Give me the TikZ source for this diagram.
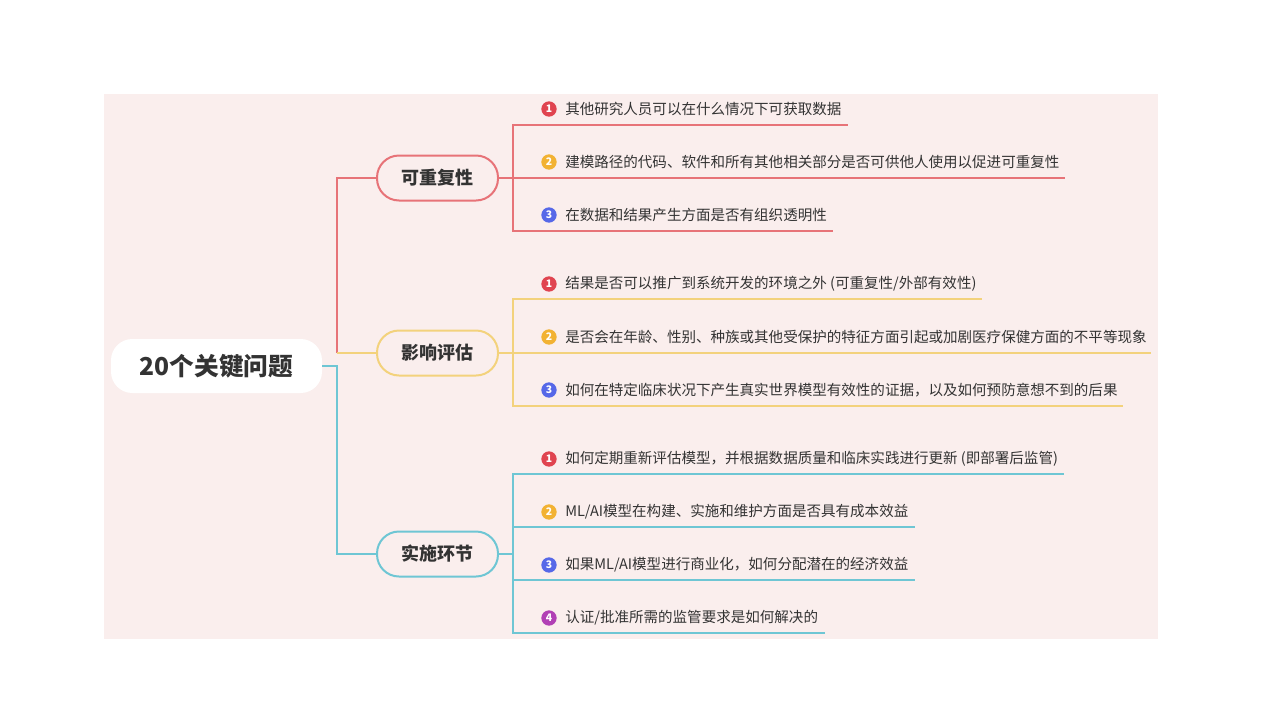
\documentclass[tikz,border=0pt]{standalone}
\usepackage{fontspec}
\setmainfont{Noto Sans CJK SC}
\definecolor{bgc}{HTML}{FAEEED}
\definecolor{cred}{HTML}{E77378}
\definecolor{cyel}{HTML}{F3D27C}
\definecolor{ccya}{HTML}{6EC6D4}
\definecolor{ired}{HTML}{E04450}
\definecolor{iora}{HTML}{F2B233}
\definecolor{iblu}{HTML}{5668E8}
\definecolor{ipur}{HTML}{B140B5}
\definecolor{txt}{HTML}{333333}
\begin{document}
\begin{tikzpicture}[x=0.75pt,y=-0.75pt,
  rootbox/.style={fill=white,rounded corners=16pt,minimum width=158.25pt,minimum height=40.5pt,inner sep=0pt,text=txt,font=\fontsize{18.5}{22}\selectfont\bfseries},
  pill/.style={draw=#1,line width=1.5pt,fill=bgc,rounded corners=16.5pt,minimum width=90.75pt,minimum height=33.75pt,inner sep=0pt,text=txt,font=\fontsize{13.5}{16}\selectfont\bfseries},
  icon/.style={circle,fill=#1,inner sep=0pt,minimum size=11.5pt,text=white,font=\fontsize{7.8}{8}\selectfont\bfseries},
  leaf/.style={anchor=west,inner sep=0pt,text=txt,font=\fontsize{10.9}{13}\selectfont},
  main/.style={draw=#1,line width=2pt},
  sub/.style={draw=#1,line width=1.5pt}]
\useasboundingbox (0,0) rectangle (1280,714);
\fill[white] (0,0) rectangle (1280,714);
\fill[bgc] (104,94) rectangle (1158,639);

% root and branches
\node[rootbox] (root) at (216.5,366) {20个关键问题};
\node[pill=cred] (b1) at (437.5,178) {可重复性};
\node[pill=cyel] (b2) at (437.5,353) {影响评估};
\node[pill=ccya] (b3) at (437.5,554) {实施环节};
\coordinate (r0) at (337,366);
\coordinate (r1) at (337,353);
\draw[main=ccya] (root.east) -- (r0) |- (b3.west);
\draw[main=cred] (r1) |- (b1.west);
\draw[main=cyel] (r1) -- (b2.west);

% group 1
\coordinate (j1) at (513,178);
\draw[sub=cred] (b1.east) -- (j1);
\coordinate (e11) at (848,125);
\coordinate (e12) at (1065,178);
\coordinate (e13) at (833,231);
\draw[sub=cred] (j1) |- (e11);
\draw[sub=cred] (j1) -- (e12);
\draw[sub=cred] (j1) |- (e13);
\node[icon=ired] (i11) at (549,109) {1};
\node[icon=iora] (i12) at (549,162) {2};
\node[icon=iblu] (i13) at (549,215) {3};
\node[leaf] (t11) at (565,109) {其他研究人员可以在什么情况下可获取数据};
\node[leaf] (t12) at (565,162) {建模路径的代码、软件和所有其他相关部分是否可供他人使用以促进可重复性};
\node[leaf] (t13) at (565,215) {在数据和结果产生方面是否有组织透明性};

% group 2
\coordinate (j2) at (513,353);
\draw[sub=cyel] (b2.east) -- (j2);
\coordinate (e21) at (982,299);
\coordinate (e22) at (1151,353);
\coordinate (e23) at (1123,406);
\draw[sub=cyel] (j2) |- (e21);
\draw[sub=cyel] (j2) -- (e22);
\draw[sub=cyel] (j2) |- (e23);
\node[icon=ired] (i21) at (549,284) {1};
\node[icon=iora] (i22) at (549,337) {2};
\node[icon=iblu] (i23) at (549,390) {3};
\node[leaf] (t21) at (565,284) {结果是否可以推广到系统开发的环境之外 (可重复性/外部有效性)};
\node[leaf] (t22) at (565,337) {是否会在年龄、性别、种族或其他受保护的特征方面引起或加剧医疗保健方面的不平等现象};
\node[leaf] (t23) at (565,390) {如何在特定临床状况下产生真实世界模型有效性的证据，以及如何预防意想不到的后果};

% group 3
\coordinate (j3) at (513,554);
\draw[sub=ccya] (b3.east) -- (j3);
\coordinate (e31) at (1064,474);
\coordinate (e32) at (915,527);
\coordinate (e33) at (915,580);
\coordinate (e34) at (825,633);
\draw[sub=ccya] (j3) |- (e31);
\draw[sub=ccya] (j3) |- (e32);
\draw[sub=ccya] (j3) |- (e33);
\draw[sub=ccya] (j3) |- (e34);
\node[icon=ired] (i31) at (549,459) {1};
\node[icon=iora] (i32) at (549,512) {2};
\node[icon=iblu] (i33) at (549,565) {3};
\node[icon=ipur] (i34) at (549,618) {4};
\node[leaf] (t31) at (565,459) {如何定期重新评估模型，并根据数据质量和临床实践进行更新 (即部署后监管)};
\node[leaf] (t32) at (565,512) {ML/AI模型在构建、实施和维护方面是否具有成本效益};
\node[leaf] (t33) at (565,565) {如果ML/AI模型进行商业化，如何分配潜在的经济效益};
\node[leaf] (t34) at (565,618) {认证/批准所需的监管要求是如何解决的};
\end{tikzpicture}
\end{document}
